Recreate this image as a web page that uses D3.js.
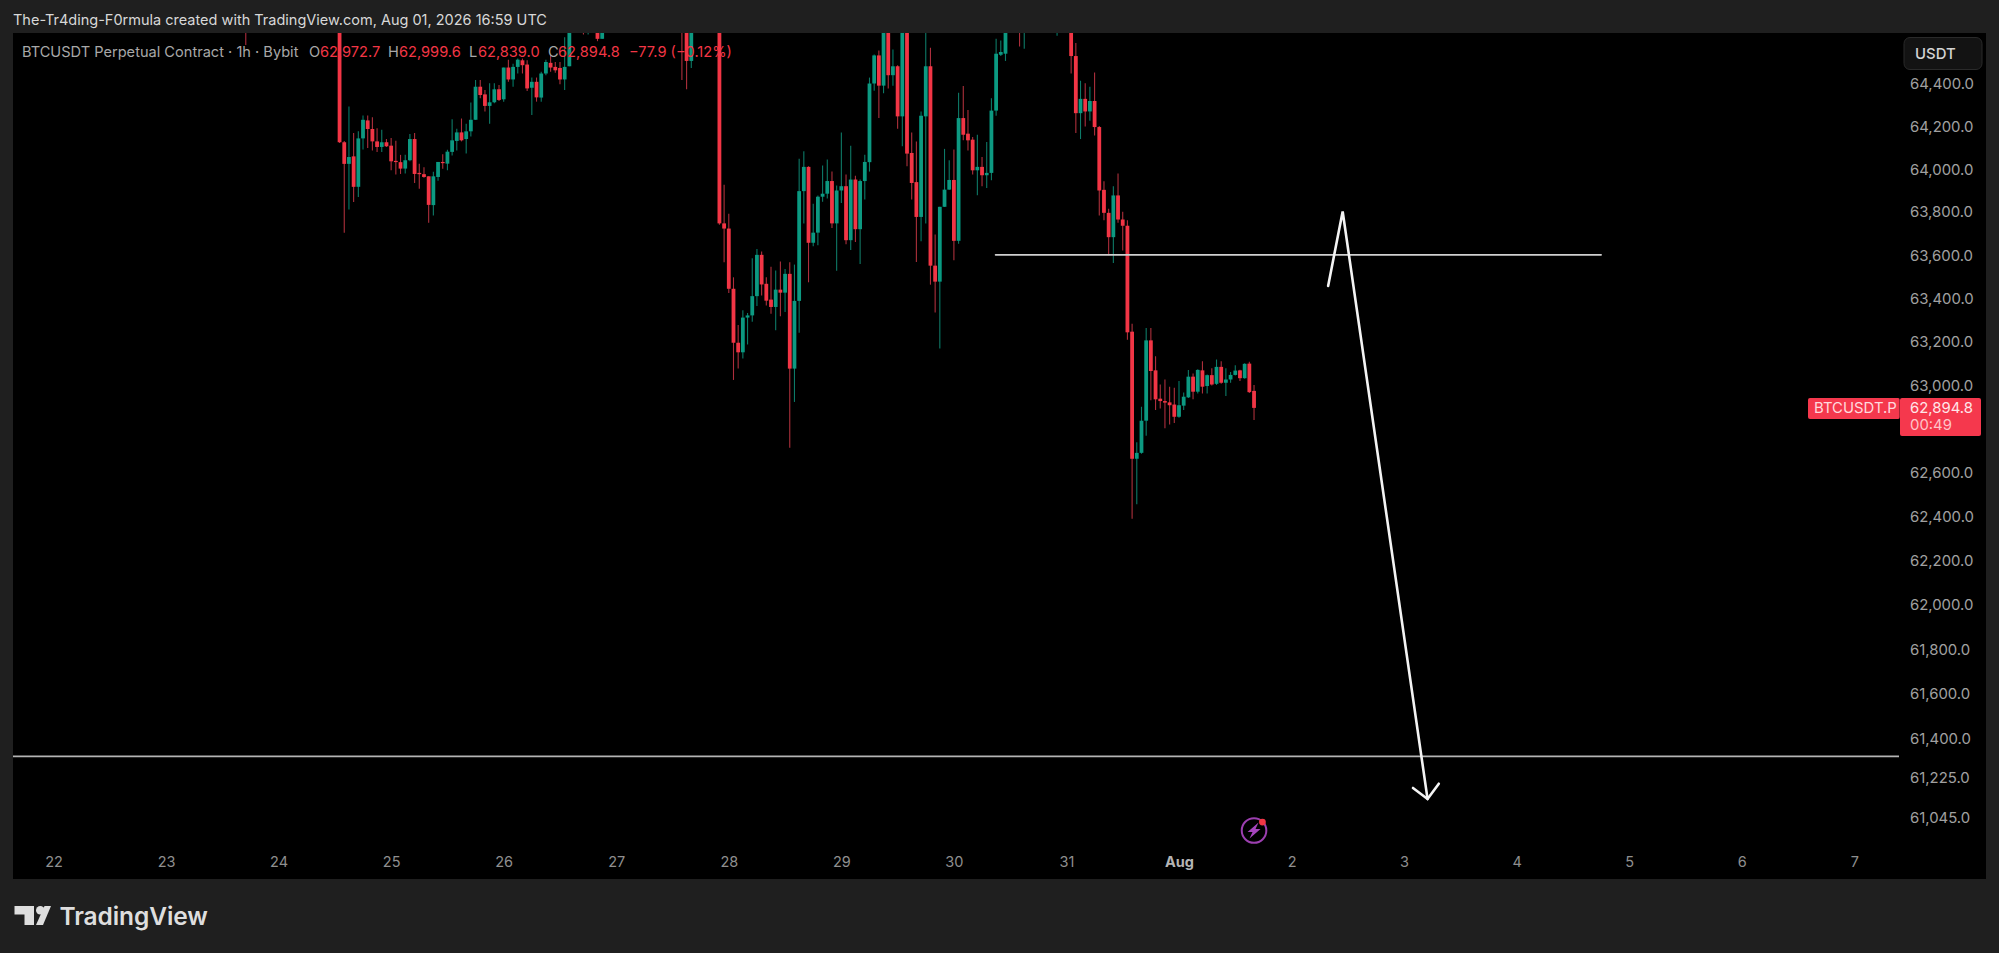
<!DOCTYPE html>
<html><head><meta charset="utf-8">
<script src="https://cdn.jsdelivr.net/npm/d3@7/dist/d3.min.js"></script>
<style>
html,body{margin:0;padding:0;background:#1f1f1f;overflow:hidden}
svg{display:block;font-family:Inter,"Noto Sans",sans-serif}
</style></head><body><svg id="c" width="1999" height="953"></svg>
<script>
// Hours since 22 Jul 00:00 for every candle at least partly inside the view
const hours=[41,
61,62,63,64,65,66,67,68,69,70,71,72,73,74,75,76,77,78,79,80,
81,82,83,84,85,86,87,88,89,90,91,92,93,94,95,96,97,98,99,100,
101,102,103,104,105,106,107,108,109,110,113,114,116,117,134,135,136,
142,143,144,145,146,147,148,149,150,151,152,153,154,155,156,157,158,159,160,
161,162,163,164,165,166,167,168,169,170,171,172,173,174,175,176,177,178,179,180,
181,182,183,184,185,186,187,188,189,190,191,192,193,194,195,196,197,198,199,200,
201,202,203,206,207,214,217,218,219,220,
221,222,223,224,225,226,227,228,229,230,231,232,233,234,235,236,237,238,239,240,
241,242,243,244,245,246,247,248,249,250,251,252,253,254,255,256];
const opens=[64900,
64900,64124,64023,64058,63916,64142,64226,64186,64128,64102,64124,64108,64037,64031,64001,64040,64139,63981,63975,63965,
63831,63962,64032,64024,64079,64130,64170,64139,64175,64229,64384,64348,64294,64311,64372,64325,64474,64418,64477,64508,
64488,64379,64407,64333,64446,64496,64477,64472,64418,64480,64800,64700,64750,64609,64800,64750,64505,
64750,63746,63722,63443,63194,63150,63310,63320,63409,63600,63466,63393,63359,63439,63425,63512,63075,63387,63896,
64009,63656,63703,63870,63884,63943,63746,63899,63919,63668,63950,63719,63943,64031,64399,64531,64389,64750,64438,64480,
64245,64750,64074,63938,63776,64245,64480,63550,63476,63823,63903,63948,63665,64237,64164,64136,63993,64009,63970,63981,
64272,64534,64539,64800,64700,64700,64750,64528,64260,64327,
64268,64317,64195,63902,63795,63682,63876,63764,63735,63245,62662,62689,62836,63205,63067,62937,62926,62920,62910,62854,
62905,62943,63038,62969,63067,62995,63045,63005,63083,63010,63025,63046,63067,63031,63098,62972.7];
const highs=[64950,
64950,64130,64291,64167,64175,64249,64249,64241,64190,64182,64139,64144,64131,64065,64066,64162,64167,64024,64007,63965,
63986,64032,64068,64089,64232,64187,64235,64210,64310,64415,64415,64368,64400,64400,64392,64474,64511,64492,64516,64516,
64508,64427,64427,64454,64511,64531,64500,64500,64616,64750,64850,64800,64800,64750,64850,64800,64800,
64800,63926,63791,63496,63276,63344,63331,63584,63627,63616,63496,63545,63527,63569,63535,63566,63555,64047,64082,
64012,63837,63876,64015,64043,63988,63922,64170,63974,64108,63968,63950,64066,64427,64535,64554,64750,64800,64559,64485,
64750,64800,64170,64128,64268,64700,64567,63694,63823,64093,64040,64090,64356,64387,64275,64148,64159,64055,64125,64330,
64609,64601,64700,64850,64800,64800,64800,64589,64412,64400,
64384,64451,64200,63942,63814,63919,63978,63800,63760,63282,62738,62900,63262,63262,63132,63002,63025,62992,62987,63018,
62965,63069,63053,63072,63109,63048,63077,63117,63109,63077,63060,63091,63070,63100,63106,62999.6];
const lows=[64580,
64120,63702,63810,63845,63869,64090,64097,64086,64079,64079,64102,63993,63973,63976,63978,64035,63934,63907,63958,63749,
63783,63944,64000,63993,64062,64085,64128,64071,64151,64229,64330,64268,64210,64306,64317,64314,64407,64384,64446,64446,
64364,64252,64314,64314,64438,64454,64449,64396,64368,64480,64629,64629,64598,64609,64415,64372,64472,
63740,63566,63423,63023,63075,63121,63186,63291,63363,63412,63366,63328,63251,63316,63336,62712,62922,63240,63746,
63473,63640,63645,63846,63862,63724,63526,63841,63649,63622,63660,63558,63857,63987,64365,64237,64353,64376,64389,64187,
64105,64012,63857,63567,63663,63745,63462,63333,63167,63823,63903,63575,63652,64133,64086,63973,63877,63919,63911,63947,
64248,64528,64505,64573,64562,64624,64446,64167,64139,64198,
64224,64156,63783,63761,63598,63562,63749,63620,63208,62389,62455,62685,62767,62930,62885,62892,62802,62819,62825,62850,
62885,62940,62934,62961,62961,62961,62998,63000,63006,62949,63010,63043,63018,63028,62963,62839.0];
const closes=[64800,
64124,64023,64055,63916,64142,64229,64186,64128,64102,64124,64105,64035,64034,64001,64040,64139,63976,63975,63962,63832,
63965,64032,64030,64080,64133,64170,64133,64175,64229,64384,64345,64294,64311,64372,64322,64474,64418,64477,64511,64485,
64376,64407,64334,64446,64500,64474,64461,64418,64477,64700,64700,64800,64609,64700,64640,64505,64750,
63746,63722,63443,63194,63150,63310,63320,63409,63600,63463,63388,63359,63439,63425,63512,63075,63387,63896,64009,
63656,63703,63870,63884,63943,63746,63899,63919,63668,63950,63719,63943,64032,64399,64531,64389,64700,64438,64480,64245,
64700,64071,63934,63776,64248,64480,63550,63476,63823,63903,63948,63665,64237,64159,64133,63993,64009,63970,63981,64272,
64539,64547,64640,64700,64800,64800,64528,64260,64327,64268,
64317,64195,63899,63795,63682,63876,63764,63735,63242,62662,62689,62836,63205,63064,62934,62926,62919,62907,62854,62907,
62946,63038,62969,63069,62992,63045,63002,63083,63010,63025,63046,63066,63031,63097,62967,62894.8];

const priceTicks=[64400,64200,64000,63800,63600,63400,63200,63000,62600,62400,62200,62000,61800,61600,61400,61225,61045];
const dayHours=[0,24,48,72,96,120,144,168,192,216,240,264,288,312,336,360,384];
const dayLabels=["22","23","24","25","26","27","28","29","30","31","Aug","2","3","4","5","6","7"];

// Drawn levels and the hand-drawn arrow (hour, price)
const shortLevel={from:200.9,to:330,price:63600};
const longLevelPrice=61318;
const arrowPath=[[271.8,63456],[274.9,63801],[293.0,61128]];
const arrowHead=[[289.9,61177],[293.0,61128],[295.4,61196]];
const lastPrice=62894.8, lastHour=256;

const pane={l:13,r:1899,t:33,b:879,axisR:1986};
const x=d3.scaleLinear().domain([0,240]).range([53.5,1179]);
const y=d3.scaleLog().domain([64400,61400]).range([83.3,738]);
const UP="#089981",DOWN="#f23645",UPW="#0b7a67",DOWNW="#ad2f3c";

const svg=d3.select("#c");
svg.append("rect").attr("width",1999).attr("height",953).attr("fill","#1f1f1f");
svg.append("rect").attr("x",pane.l).attr("y",pane.t).attr("width",pane.axisR-pane.l).attr("height",pane.b-pane.t).attr("fill","#000");
const defs=svg.append("defs");
defs.append("clipPath").attr("id","pane").append("rect").attr("x",pane.l).attr("y",pane.t).attr("width",pane.r-pane.l).attr("height",pane.b-pane.t);
defs.append("filter").attr("id","soft").attr("x","-5%").attr("y","-5%").attr("width","110%").attr("height","110%")
  .append("feGaussianBlur").attr("stdDeviation",0.35);

const plot=svg.append("g").attr("clip-path","url(#pane)");
const candles=plot.append("g").attr("filter","url(#soft)");
const idx=d3.range(hours.length);
candles.selectAll("line").data(idx).join("line")
  .attr("x1",i=>x(hours[i])).attr("x2",i=>x(hours[i]))
  .attr("y1",i=>y(highs[i])).attr("y2",i=>y(lows[i]))
  .attr("stroke",i=>closes[i]>=opens[i]?UPW:DOWNW).attr("stroke-width",1.1);
candles.selectAll("rect").data(idx).join("rect")
  .attr("x",i=>x(hours[i])-1.9).attr("width",3.8)
  .attr("y",i=>Math.min(y(opens[i]),y(closes[i])))
  .attr("height",i=>Math.max(1.2,Math.abs(y(opens[i])-y(closes[i]))))
  .attr("fill",i=>closes[i]>=opens[i]?UP:DOWN);

// Drawings
const draw=plot.append("g").attr("fill","none").attr("stroke-linecap","round").attr("stroke-linejoin","miter");
draw.append("line").attr("x1",x(shortLevel.from)).attr("x2",x(shortLevel.to)).attr("y1",y(shortLevel.price)).attr("y2",y(shortLevel.price))
  .attr("stroke","#cfcfcf").attr("stroke-width",1.8);
draw.append("line").attr("x1",pane.l).attr("x2",pane.r).attr("y1",y(longLevelPrice)).attr("y2",y(longLevelPrice))
  .attr("stroke","#b4b4b4").attr("stroke-width",1.8);
const ln=d3.line().x(d=>x(d[0])).y(d=>y(d[1]));
draw.append("path").attr("d",ln(arrowPath)).attr("stroke","#f4f4f4").attr("stroke-width",2.6);
draw.append("path").attr("d",ln(arrowHead)).attr("stroke","#f4f4f4").attr("stroke-width",2.6);

// Axes
const yAxis=d3.axisRight(y).tickValues(priceTicks).tickSize(0).tickFormat(d3.format(",.1f"));
const ya=svg.append("g").attr("transform","translate(1910,0)").call(yAxis);
ya.select(".domain").remove();
ya.selectAll("text").attr("x",0).attr("dy","0.35em").attr("fill","#a0a0a0").style("font-family","Inter,sans-serif").style("font-size","14.9px");

const xAxis=d3.axisBottom(x).tickValues(dayHours).tickSize(0).tickFormat((d,i)=>dayLabels[i]);
const xa=svg.append("g").attr("transform","translate(0,855)").call(xAxis);
xa.select(".domain").remove();
xa.selectAll("text").attr("y",0).attr("dy","0.8em").attr("fill","#8f8f8f").style("font-family","Inter,sans-serif").style("font-size","14.5px");
xa.selectAll("text").filter((d,i)=>dayLabels[i]==="Aug").attr("fill","#b4b4b4").style("font-weight","700");

// Header
svg.append("text").attr("x",13).attr("y",25).attr("fill","#d8d8d8").style("font-size","14.5px")
  .text("The-Tr4ding-F0rmula created with TradingView.com, Aug 01, 2026 16:59 UTC");

// Legend
const legend=svg.append("g").style("font-size","14.6px");
const lg=[[22,"BTCUSDT Perpetual Contract · 1h · Bybit","#a8a8a8"],[309,"O","#a8a8a8"],[320,"62,972.7","#f23645"],
 [388,"H","#a8a8a8"],[399,"62,999.6","#f23645"],[469,"L","#a8a8a8"],[478,"62,839.0","#f23645"],
 [548,"C","#a8a8a8"],[558,"62,894.8","#f23645"],[629,"−77.9 (−0.12%)","#f23645"]];
legend.selectAll("text").data(lg).join("text").attr("x",d=>d[0]).attr("y",57).attr("fill",d=>d[2]).text(d=>d[1]);

// Currency pill
svg.append("rect").attr("x",1904).attr("y",37.5).attr("width",78).attr("height",32).attr("rx",6).attr("fill","#131313").attr("stroke","#2a2a2a");
svg.append("text").attr("x",1915).attr("y",58.5).attr("fill","#d4d4d4").style("font-size","14.9px").style("font-weight","500").text("USDT");

// Last price tag
const ly=y(lastPrice);
svg.append("rect").attr("x",1900).attr("y",ly-10).attr("width",81).attr("height",38).attr("rx",2).attr("fill","#f5384d");
svg.append("rect").attr("x",1808).attr("y",ly-10).attr("width",92).attr("height",21).attr("rx",2).attr("fill","#f5384d");
svg.append("line").attr("x1",1899.5).attr("x2",1899.5).attr("y1",ly-10).attr("y2",ly+11).attr("stroke","#00000055");
svg.append("text").attr("x",1814).attr("y",ly+5).attr("fill","#ffd9dd").style("font-size","14.9px").text("BTCUSDT.P");
svg.append("text").attr("x",1910).attr("y",ly+5).attr("fill","#ffe6e8").style("font-size","14.9px").text(d3.format(",.1f")(lastPrice));
svg.append("text").attr("x",1910).attr("y",ly+22).attr("fill","#ffc2c8").style("font-size","14.9px").text("00:49");

// Event icon under the last candle
const icon=svg.append("g").attr("transform",`translate(${x(lastHour)},830.5)`);
icon.append("circle").attr("r",12.3).attr("fill","none").attr("stroke","#9c3fb0").attr("stroke-width",2);
icon.append("path").attr("d","M4.5,-8 L-6.5,1.5 L-1.5,1.5 L-4.5,8 L6.5,-1.5 L1.5,-1.5 Z").attr("fill","#a645bd");
icon.append("circle").attr("cx",8.4).attr("cy",-8.4).attr("r",3.4).attr("fill","#f23645");

// TradingView brand
const brand=svg.append("g").attr("fill","#dedede");
brand.append("path").attr("d","M14.5,906 H34 V925 H24.5 V914.5 H14.5 Z");
brand.append("circle").attr("cx",40.3).attr("cy",910.3).attr("r",4.3);
brand.append("path").attr("d","M36,925 L44.5,906 H51 L43,925 Z");
svg.append("text").attr("x",59.5).attr("y",925).attr("fill","#dedede").style("font-size","24.5px").style("font-weight","600").style("letter-spacing","-0.1px").text("TradingView");
</script></body></html>
